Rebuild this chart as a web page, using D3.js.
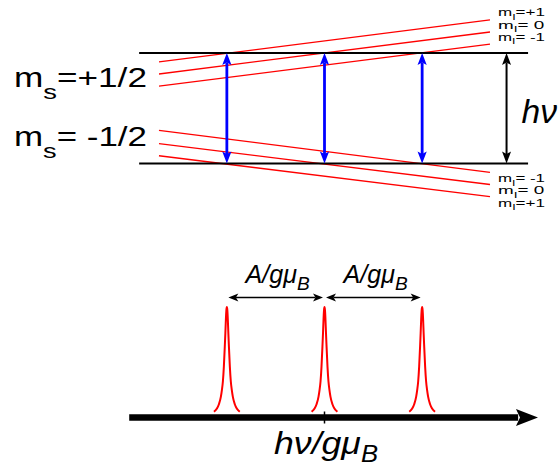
<!DOCTYPE html>
<html><head><meta charset="utf-8">
<script src="https://cdn.jsdelivr.net/npm/d3@7"></script>
<style>body{margin:0;background:#fff}svg{display:block}</style>
</head><body>
<script>
// ---------- data ----------
const fieldDomain = [0, 100];                 // field axis (arbitrary units)
const spinLevels = [0.5, -0.5];               // m_s = +1/2, -1/2 (energy units)
const spinLabels = ["=+1/2", "= -1/2"];
const mIValues = [1, 0, -1];
const upperStart = [0.42, 0.31, 0.20];        // m_s=+1/2 sublevels at field start
const upperEnd   = [0.80, 0.69, 0.58];        // ... at field end
const lowerStart = [-0.43, -0.32, -0.20];     // m_s=-1/2 sublevels at field start
const lowerEnd   = [-0.80, -0.69, -0.58];
const resonanceFields = [20.5, 50, 79.5];     // allowed transitions / peaks
const centerField = 50;
const profileOffset    = [0, 0.15, 0.3, 0.45, 0.6, 0.9, 1.2, 1.5, 1.8, 2.4, 3.0, 3.9];
const profileIntensity = [1, 0.97, 0.88, 0.76, 0.65, 0.45, 0.31, 0.23, 0.17, 0.10, 0.06, 0.03];

// ---------- setup ----------
const W = 559, H = 466;
const svg = d3.select("body").append("svg").attr("width", W).attr("height", H);
const x = d3.scaleLinear().domain(fieldDomain).range([159, 490]);
const yE = d3.scaleLinear().domain([-0.5, 0.5]).range([163.5, 53]);
const yI = d3.scaleLinear().domain([0, 1]).range([415, 307]);
const FONT = "'Liberation Sans', Arial, Helvetica, sans-serif";

function arrowHead(g, tx, ty, dx, dy, len, hw, notch, color) {
  const nx = -dy, ny = dx;
  const p = [
    [tx, ty],
    [tx - dx*len + nx*hw, ty - dy*len + ny*hw],
    [tx - dx*(len-notch), ty - dy*(len-notch)],
    [tx - dx*len - nx*hw, ty - dy*len - ny*hw]
  ];
  g.append("path").attr("d", "M" + p.map(d => d.join(",")).join("L") + "Z")
    .attr("fill", color).attr("stroke", "none");
}
function doubleArrow(g, x1, y1, x2, y2, w, len, hw, notch, color) {
  const L = Math.hypot(x2-x1, y2-y1), dx = (x2-x1)/L, dy = (y2-y1)/L;
  const inset = len - notch;
  g.append("line").attr("x1", x1 + dx*inset).attr("y1", y1 + dy*inset)
    .attr("x2", x2 - dx*inset).attr("y2", y2 - dy*inset)
    .attr("stroke", color).attr("stroke-width", w);
  arrowHead(g, x2, y2, dx, dy, len, hw, notch, color);
  arrowHead(g, x1, y1, -dx, -dy, len, hw, notch, color);
}
function fit(t, left, base, width) {
  const bb = t.node().getBBox();
  t.attr("transform", `translate(${left - bb.x * width / bb.width},${base}) scale(${width / bb.width},1)`);
}

// ---------- energy diagram ----------
const gE = svg.append("g");
const lineGen = d3.line().x(d => x(d[0])).y(d => yE(d[1]));
mIValues.forEach((m, i) => {
  gE.append("path").attr("d", lineGen([[fieldDomain[0], upperStart[i]], [fieldDomain[1], upperEnd[i]]]))
    .attr("stroke", "#ff0000").attr("stroke-width", 1.3).attr("fill", "none");
  gE.append("path").attr("d", lineGen([[fieldDomain[0], lowerStart[i]], [fieldDomain[1], lowerEnd[i]]]))
    .attr("stroke", "#ff0000").attr("stroke-width", 1.3).attr("fill", "none");
});
spinLevels.forEach((e, i) => {
  gE.append("line").attr("x1", x(-6)).attr("x2", x(111.5)).attr("y1", yE(e)).attr("y2", yE(e))
    .attr("stroke", "#000").attr("stroke-width", 2);
  const t = gE.append("text").attr("font-family", FONT).attr("font-size", 27).attr("fill", "#000");
  t.append("tspan").text("m");
  t.append("tspan").attr("font-size", 21).attr("dy", 12).text("s");
  t.append("tspan").attr("dy", -12).text(spinLabels[i]);
  fit(t, 14, i === 0 ? 87 : 146, 133);
});
function mIText(m) { return m > 0 ? "=+1" : (m === 0 ? "= 0" : "= -1"); }
mIValues.forEach((m, i) => {
  [[upperEnd[i], -3.5], [lowerEnd[i], 10]].forEach(([e, off]) => {
    const t = gE.append("text").attr("font-family", FONT).attr("font-size", 11.8).attr("fill", "#000");
    t.append("tspan").text("m");
    t.append("tspan").attr("font-size", 8.5).attr("dy", 3.5).text("I");
    t.append("tspan").attr("dy", -3.5).text(mIText(m));
    fit(t, 498, yE(e) + off, 47);
  });
});
resonanceFields.forEach(f => {
  doubleArrow(gE, x(f), yE(0.5), x(f), yE(-0.5), 2.8, 12, 4.6, 2.5, "#0000ff");
});
doubleArrow(gE, x(105), yE(0.5), x(105), yE(-0.5), 2, 12, 4.5, 2.5, "#000");
{
  const t = gE.append("text").attr("font-family", FONT).attr("font-size", 33)
    .attr("font-style", "italic").text("hν");
  fit(t, 521.5, 123, 36);
}

// ---------- spectrum ----------
const gS = svg.append("g");
const axisY = 417.5;
gS.append("line").attr("x1", x(-9)).attr("x2", x(108.5)).attr("y1", axisY).attr("y2", axisY)
  .attr("stroke", "#000").attr("stroke-width", 6.5);
arrowHead(gS, x(114.5), axisY, 1, 0, 22, 8.5, 4, "#000");
gS.append("line").attr("x1", x(centerField)).attr("x2", x(centerField)).attr("y1", axisY - 6).attr("y2", axisY + 6)
  .attr("stroke", "#000").attr("stroke-width", 1.5);

const profile = profileOffset.slice().reverse().map((o, i) => [-o, profileIntensity[profileOffset.length - 1 - i]])
  .concat(profileOffset.slice(1).map((o, i) => [o, profileIntensity[i + 1]]));
const peakLine = d3.line().curve(d3.curveMonotoneX);
resonanceFields.forEach(f => {
  gS.append("path").attr("d", peakLine(profile.map(p => [x(f + p[0]), yI(p[1])])))
    .attr("stroke", "#ff0000").attr("stroke-width", 2).attr("fill", "none");
});
const spacingY = 297.5;
for (let i = 0; i < resonanceFields.length - 1; i++) {
  const a = x(resonanceFields[i]) + 1.5, b = x(resonanceFields[i + 1]) - 1.5;
  doubleArrow(gS, a, spacingY, b, spacingY, 1.5, 10, 4, 2.5, "#000");
  const t = gS.append("text").attr("font-family", FONT).attr("font-size", 25)
    .attr("font-style", "italic").attr("fill", "#000");
  t.append("tspan").text("A/gμ");
  t.append("tspan").attr("font-size", 19).attr("dy", 7).text("B");
  fit(t, i === 0 ? 243.5 : 341.5, 283, 66.5);
}
{
  const t = gS.append("text").attr("font-family", FONT).attr("font-size", 32)
    .attr("font-style", "italic").attr("fill", "#000");
  t.append("tspan").text("hν/gμ");
  t.append("tspan").attr("font-size", 23).attr("dy", 8.5).text("B");
  fit(t, 274, 453.5, 104);
}
</script>
</body></html>
